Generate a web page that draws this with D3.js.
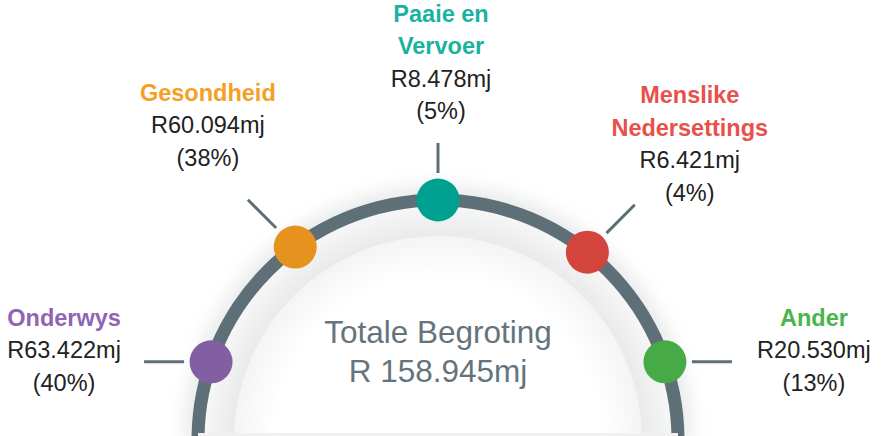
<!DOCTYPE html>
<html>
<head>
<meta charset="utf-8">
<script src="https://cdn.jsdelivr.net/npm/d3@7"></script>
<style>
  body { margin: 0; background: #fff; }
  text { font-family: "Liberation Sans", Arial, sans-serif; }
</style>
</head>
<body>
<div class="chart"></div>
<script>
// budget segments, left to right along the arc
const categories = ["Onderwys", "Gesondheid", "Paaie en Vervoer", "Menslike Nedersettings", "Ander"];
const titleLines = [["Onderwys"], ["Gesondheid"], ["Paaie en", "Vervoer"], ["Menslike", "Nedersettings"], ["Ander"]];
const values = [63.422, 60.094, 8.478, 6.421, 20.530];
const percents = [40, 38, 5, 4, 13];
const dotColors = ["#835ea3", "#e6921e", "#00a091", "#d3443c", "#46ab46"];
const titleColors = ["#9064b2", "#f4a024", "#19b3a0", "#e8504b", "#4bb44b"];
const totalLabel = "Totale Begroting";
const total = 158.945;

const width = 884, height = 436;
const cx = 438, cy = 440, r = 240;
const arcGray = "#5f6f77";

const svg = d3.select(".chart").append("svg")
    .attr("width", width)
    .attr("height", height);

const defs = svg.append("defs");

const blur = defs.append("filter").attr("id", "soft")
    .attr("x", "-20%").attr("y", "-20%").attr("width", "140%").attr("height", "140%");
blur.append("feGaussianBlur").attr("stdDeviation", 9);

// gradient lives in the translated group's coordinates, so centre at 0,0
const innerGrad = defs.append("radialGradient").attr("id", "innerGrad")
    .attr("cx", 0).attr("cy", 0).attr("r", 205)
    .attr("gradientUnits", "userSpaceOnUse");
innerGrad.append("stop").attr("offset", "0.8").attr("stop-color", "#ffffff");
innerGrad.append("stop").attr("offset", "1").attr("stop-color", "#f4f4f4");

const bandGrad = defs.append("radialGradient").attr("id", "bandGrad")
    .attr("cx", 0).attr("cy", 0).attr("r", r)
    .attr("gradientUnits", "userSpaceOnUse");
bandGrad.append("stop").attr("offset", "0.85").attr("stop-color", "#e9eaea");
bandGrad.append("stop").attr("offset", "1").attr("stop-color", "#f9f9f9");

// where each dot sits on the arc (degrees, 0 = right)
const angle = d3.scaleOrdinal()
    .domain(categories)
    .range([161, 126.5, 90, 51.5, 19]);

// leader lines point at 180, 135, 90, 45, 0
const leaderAngle = d3.scalePoint()
    .domain(categories)
    .range([180, 0]);

const rad = a => a * Math.PI / 180;

const halfDisc = d3.arc()
    .startAngle(-Math.PI / 2)
    .endAngle(Math.PI / 2);

const g = svg.append("g").attr("transform", `translate(${cx}, ${cy})`);

// soft shadow outside the arc
g.append("path")
    .attr("d", halfDisc({ innerRadius: r - 10, outerRadius: r + 14 }))
    .attr("fill", "#d8dadb")
    .attr("opacity", 0.6)
    .attr("filter", "url(#soft)");

// light band between the arc and the inner disc
g.append("path")
    .attr("d", halfDisc({ innerRadius: 0, outerRadius: r }))
    .attr("fill", "url(#bandGrad)");

g.append("path")
    .attr("d", halfDisc({ innerRadius: 0, outerRadius: 204 }))
    .attr("fill", "url(#innerGrad)");

// floor strip
svg.append("rect")
    .attr("x", cx - r).attr("y", 433)
    .attr("width", 2 * r).attr("height", 3)
    .attr("fill", "#f0f0f0");

// the arc itself
g.append("path")
    .attr("d", halfDisc({ innerRadius: r - 6.5, outerRadius: r + 6.5 }))
    .attr("fill", arcGray);

const items = categories.map((c, i) => {
    const a = rad(angle(c));
    const la = rad(leaderAngle(c));
    const x = cx + r * Math.cos(a);
    const y = cy - r * Math.sin(a);
    const len = (leaderAngle(c) === 90) ? 30 : 40;
    const x1 = x + 27 * Math.cos(la), y1 = y - 27 * Math.sin(la);
    const x2 = x1 + len * Math.cos(la), y2 = y1 - len * Math.sin(la);
    return { c, i, x, y, x1, y1, x2, y2 };
});

// leader lines
svg.selectAll(".leader")
    .data(items)
    .join("line")
    .attr("class", "leader")
    .attr("x1", d => d.x1).attr("y1", d => d.y1)
    .attr("x2", d => d.x2).attr("y2", d => d.y2)
    .attr("stroke", arcGray)
    .attr("stroke-width", 3);

// dots
svg.selectAll(".dot")
    .data(items)
    .join("circle")
    .attr("class", "dot")
    .attr("cx", d => d.x)
    .attr("cy", d => d.y)
    .attr("r", 21.5)
    .attr("fill", d => dotColors[d.i]);

// label placement relative to the leader end: [dx of centre, dy of last baseline]
const labelNudge = [[-80, 29], [-40, -34], [3, -24], [55, -4], [82, 29]];
const lineH = 32.5;
const fmt = d3.format(".3f");

items.forEach(d => {
    const lines = titleLines[d.i].map(t => ({ t, bold: true }))
        .concat([{ t: `R${fmt(values[d.i])}mj`, bold: false },
                 { t: `(${percents[d.i]}%)`, bold: false }]);
    const [dx, dy] = labelNudge[d.i];
    const lastY = d.y2 + dy;
    const t = svg.append("text")
        .attr("text-anchor", "middle")
        .attr("font-size", 23.5);
    lines.forEach((l, k) => {
        t.append("tspan")
            .attr("x", d.x2 + dx)
            .attr("y", lastY - (lines.length - 1 - k) * lineH)
            .attr("font-weight", l.bold ? "bold" : "normal")
            .attr("fill", l.bold ? titleColors[d.i] : "#222222")
            .text(l.t);
    });
});

// centre text
const centre = svg.append("text")
    .attr("text-anchor", "middle")
    .attr("font-size", 31.5)
    .attr("fill", "#65747c");
centre.append("tspan").attr("x", cx).attr("y", 343).text(totalLabel);
centre.append("tspan").attr("x", cx).attr("y", 382).text(`R ${fmt(total)}mj`);
</script>
</body>
</html>
